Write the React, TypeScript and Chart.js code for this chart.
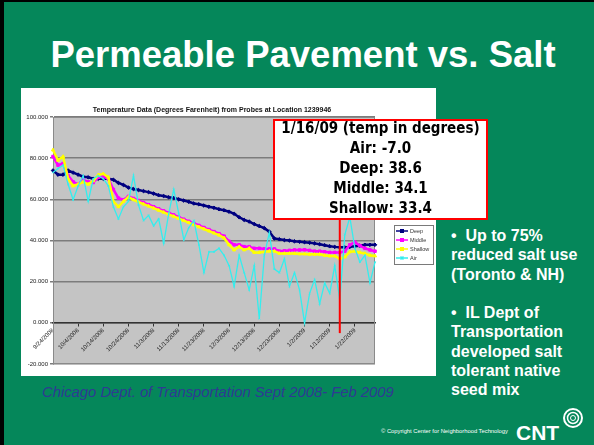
import React, { useEffect, useRef } from "react";
import { Chart, registerables } from "chart.js";

Chart.register(...registerables);

// ---------- data ----------
const dates = [
  "9/24/2008", "9/26/2008", "9/28/2008", "9/30/2008", "10/2/2008",
  "10/4/2008", "10/6/2008", "10/8/2008", "10/10/2008", "10/12/2008",
  "10/14/2008", "10/16/2008", "10/18/2008", "10/20/2008", "10/22/2008",
  "10/24/2008", "10/26/2008", "10/28/2008", "10/30/2008", "11/1/2008",
  "11/3/2008", "11/5/2008", "11/7/2008", "11/9/2008", "11/11/2008",
  "11/13/2008", "11/15/2008", "11/17/2008", "11/19/2008", "11/21/2008",
  "11/23/2008", "11/25/2008", "11/27/2008", "11/29/2008", "12/1/2008",
  "12/3/2008", "12/5/2008", "12/7/2008", "12/9/2008", "12/11/2008",
  "12/13/2008", "12/15/2008", "12/17/2008", "12/19/2008", "12/21/2008",
  "12/23/2008", "12/25/2008", "12/27/2008", "12/29/2008", "12/31/2008",
  "1/2/2009", "1/4/2009", "1/6/2009", "1/8/2009", "1/10/2009",
  "1/12/2009", "1/14/2009", "1/16/2009", "1/18/2009", "1/20/2009",
  "1/22/2009", "1/24/2009", "1/26/2009", "1/28/2009", "1/30/2009",
];

const deep = [
  74, 72, 72, 74, 73, 72, 71, 70.7, 70, 70,
  70, 70, 69.5, 68, 67, 65.7, 65, 64.5, 64, 63.5,
  62.8, 62, 61.6, 61, 60.6, 60, 59.4, 58.8, 58, 57.6,
  57, 56.4, 55.9, 55.2, 54.7, 54, 53, 51.3, 50, 49.2,
  48, 47, 46, 44.3, 41, 40.6, 40.2, 40, 39.6, 39.4,
  39.2, 38.9, 38.6, 38.2, 37.7, 37.2, 36.9, 36.7, 36.7, 36.9,
  37.2, 37.5, 37.9, 37.9, 37.9,
];

const middle = [
  80.8, 76.6, 77.4, 71.5, 68.5, 67.3, 69.5, 68.5, 68.2, 70.7,
  71, 70, 64.8, 60.6, 59.8, 61.4, 60.4, 59.4, 58.4, 57.4,
  56.4, 55.4, 54.4, 53.4, 52.4, 51.3, 50.3, 49.3, 48.3, 47.3,
  46.3, 45.3, 44.3, 43.3, 42.1, 39.6, 37.9, 37.9, 37, 37,
  36.2, 36.2, 35.9, 35.9, 35.9, 34.8, 35, 35.2, 35.4, 35.4,
  35.5, 35.2, 34.8, 34.8, 34.5, 34.2, 34.2, 34.2, 34.8, 37.9,
  39.2, 37.5, 36.2, 35.4, 34.8,
];

const shallow = [
  84, 79, 80.8, 70, 66.5, 67.3, 68.5, 67.3, 69, 71.9,
  72.4, 70.7, 59, 56.4, 59, 61.1, 59.8, 58.8, 57.7, 56.7,
  55.7, 54.7, 53.7, 52.7, 51.7, 50.7, 49.7, 48.7, 47.6, 46.6,
  45.6, 44.6, 43.6, 42.6, 41.2, 37.9, 35.4, 37, 35.4, 36.2,
  34.2, 34.2, 34.5, 34.8, 34.8, 33.7, 33.7, 33.7, 33.7, 33.5,
  33.5, 33.3, 33.3, 33.3, 32.8, 32.5, 32.5, 31.1, 32, 34.5,
  34.8, 34.2, 33.7, 32.8, 32.5,
];

const air = [
  73, 75, 76.6, 67.3, 59.8, 66.5, 71.5, 59, 70, 71.5,
  70, 66.5, 56.4, 50.5, 56.4, 59, 71.5, 57.2, 49.7, 52.2,
  47.1, 50.5, 38.7, 53, 64.8, 53, 40.4, 46.3, 49.7, 37.9,
  24.4, 34.5, 34.5, 36.2, 32.8, 27.8, 17.7, 32.8, 24.4, 16,
  27.8, 2, 32.8, 43.8, 26.1, 24.4, 31.1, 17.7, 24.4, 16,
  0, 14.3, 21, 9.3, 19.4, 14.3, 27.8, 10.9, 42.9, 51.3,
  36.2, 29.5, 32.8, 19.4, 29.5,
];

const seriesNames = ["Deep", "Middle", "Shallow", "Air"];
const seriesColors = ["#000080", "#FF00FF", "#FFFF00", "#33EEEE"];
const seriesMarkers = ["rectRot", "rect", "triangle", "crossRot"];

const yMin = -20;
const yMax = 100;
const yStep = 20;
const labelEvery = 5;

const chartTitle = "Temperature Data (Degrees Farenheit) from Probes at Location 1239946";
const slideTitle = "Permeable Pavement vs. Salt";
const calloutDate = "1/16/2009";
const calloutHeading = "1/16/09 (temp in degrees)";
const calloutNames = ["Air", "Deep", "Middle", "Shallow"];
const calloutValues = [-7.0, 38.6, 34.1, 33.4];
const calloutLineBottom = -5;
const bullets = [
  "\u2022\u00a0\u00a0Up to 75%",
  "reduced salt use",
  "(Toronto & NH)",
  "\u00a0",
  "\u2022\u00a0\u00a0IL Dept of",
  "Transportation",
  "developed salt",
  "tolerant native",
  "seed mix",
];
const sourceNote = "Chicago Dept. of Transportation Sept 2008- Feb 2009";
const copyright = "\u00a9 Copyright Center for Neighborhood Technology";

const seriesData = [deep, middle, shallow, air];

// ---------- plugin ----------
const excelLook = {
  id: "excelLook",
  beforeDraw(chart: any) {
    const { ctx, chartArea: a, width, height } = chart;
    ctx.save();
    ctx.fillStyle = "#ffffff";
    ctx.fillRect(0, 0, width, height);
    ctx.fillStyle = "#C4C4C4";
    ctx.fillRect(a.left, a.top, a.right - a.left, a.bottom - a.top);
    ctx.restore();
  },
  beforeDatasetsDraw(chart: any) {
    const { ctx, chartArea: a } = chart;
    ctx.save();
    ctx.strokeStyle = "#8a8a8a";
    ctx.lineWidth = 1;
    ctx.strokeRect(a.left + 0.5, a.top + 0.5, a.right - a.left - 1, a.bottom - a.top - 1);
    ctx.restore();
  },
  afterDraw(chart: any) {
    const { ctx, chartArea: a } = chart;
    const xs = chart.scales.x;
    const ys = chart.scales.y;
    ctx.save();
    // chart title
    ctx.fillStyle = "#111";
    ctx.font = "bold 7px 'Liberation Sans', Arial, sans-serif";
    ctx.textAlign = "center";
    ctx.textBaseline = "middle";
    ctx.fillText(chartTitle, 191, 22);

    // red call-out line
    const idx = dates.indexOf(calloutDate);
    const rx = xs.getPixelForValue(idx);
    ctx.strokeStyle = "#FF0000";
    ctx.lineWidth = 2;
    ctx.beginPath();
    ctx.moveTo(rx, ys.getPixelForValue(80));
    ctx.lineTo(rx, ys.getPixelForValue(calloutLineBottom));
    ctx.stroke();

    // legend
    const lx = a.right + 19;
    const ly = 137;
    const lw = 39;
    const rowH = 9;
    ctx.fillStyle = "#ffffff";
    ctx.fillRect(lx, ly, lw, rowH * seriesNames.length + 3);
    ctx.strokeStyle = "#7a7a7a";
    ctx.lineWidth = 1;
    ctx.strokeRect(lx + 0.5, ly + 0.5, lw, rowH * seriesNames.length + 3);
    ctx.font = "5.5px 'Liberation Sans', Arial, sans-serif";
    ctx.textAlign = "left";
    ctx.textBaseline = "middle";
    seriesNames.forEach((name, i) => {
      const cy = ly + 6 + i * rowH;
      ctx.strokeStyle = seriesColors[i];
      ctx.lineWidth = 1.5;
      ctx.beginPath();
      ctx.moveTo(lx + 2, cy);
      ctx.lineTo(lx + 14, cy);
      ctx.stroke();
      ctx.fillStyle = seriesColors[i];
      ctx.beginPath();
      if (i === 3) {
        ctx.moveTo(lx + 6.5, cy - 1.5);
        ctx.lineTo(lx + 9.5, cy + 1.5);
        ctx.moveTo(lx + 9.5, cy - 1.5);
        ctx.lineTo(lx + 6.5, cy + 1.5);
        ctx.stroke();
      } else {
        ctx.rect(lx + 6, cy - 2, 4, 4);
        ctx.fill();
      }
      ctx.fillStyle = "#333";
      ctx.fillText(name, lx + 16, cy + 0.5);
    });
    ctx.restore();
  },
};

export default function App() {
  const canvasRef = useRef<HTMLCanvasElement | null>(null);

  useEffect(() => {
    const canvas = canvasRef.current;
    if (!canvas) return;
    const datasets = seriesNames.map((name, i) => ({
      label: name,
      data: seriesData[i],
      borderColor: seriesColors[i],
      backgroundColor: seriesColors[i],
      borderWidth: i === 3 ? 1.3 : 2.5,
      pointStyle: seriesMarkers[i],
      pointRadius: i === 3 ? 1 : 1.8,
      pointBorderWidth: 1,
      tension: 0,
      fill: false,
      order: 3 - i,
    }));

    const chart = new Chart(canvas, {
      type: "line",
      data: { labels: dates, datasets },
      plugins: [excelLook],
      options: {
        animation: false,
        responsive: false,
        devicePixelRatio: 1,
        layout: { padding: { left: 0, right: 61, top: 29, bottom: 12 } },
        plugins: {
          legend: { display: false },
          title: { display: false },
          tooltip: { enabled: false },
        },
        scales: {
          x: {
            type: "category",
            position: { y: 0 },
            offset: false,
            grid: {
              drawOnChartArea: false,
              drawTicks: true,
              tickLength: 3,
              color: (c: any) => (c.index % labelEvery === 0 ? "#333" : "rgba(0,0,0,0)"),
            },
            border: { display: true, color: "#333", width: 1.5 },
            ticks: {
              autoSkip: false,
              maxRotation: 45,
              minRotation: 45,
              padding: 1,
              color: "#222",
              font: { size: 6, family: "'Liberation Sans', Arial, sans-serif" },
              callback: (_v: any, i: number) => (i % labelEvery === 0 ? dates[i] : ""),
            },
          },
          y: {
            min: yMin,
            max: yMax,
            afterFit: (s: any) => {
              s.width = 32;
            },
            grid: { color: "#7c7c7c", lineWidth: 1.5, tickLength: 3 },
            border: { display: true, color: "#333", width: 1 },
            ticks: {
              stepSize: yStep,
              padding: 2,
              color: "#222",
              font: { size: 6, family: "'Liberation Sans', Arial, sans-serif" },
              callback: (v: any) => Number(v).toFixed(3),
            },
          },
        },
      } as any,
    });
    return () => chart.destroy();
  }, []);

  const sans = "'Liberation Sans', Arial, Helvetica, sans-serif";

  return (
    <div
      style={{
        position: "fixed",
        left: 0,
        top: 0,
        width: 594,
        height: 445,
        background: "#05875A",
        overflow: "hidden",
        fontFamily: sans,
      }}
    >
      <div style={{ position: "absolute", left: 0, top: 0, width: 4, height: 445, background: "#000" }} />
      <div style={{ position: "absolute", left: 0, top: 0, width: 594, height: 2, background: "#000" }} />

      <div
        style={{
          position: "absolute",
          left: 6,
          top: 37,
          width: 594,
          textAlign: "center",
          color: "#fff",
          fontWeight: "bold",
          fontSize: 36.5,
          lineHeight: "36.5px",
          whiteSpace: "nowrap",
        }}
      >
        {slideTitle}
      </div>

      <canvas
        ref={canvasRef}
        width={415}
        height={288}
        style={{ position: "absolute", left: 21, top: 88, width: 415, height: 288 }}
      />

      <div
        style={{
          position: "absolute",
          left: 273,
          top: 119,
          width: 215,
          height: 101,
          boxSizing: "border-box",
          border: "2px solid #FF0000",
          background: "#fff",
          color: "#000",
          fontFamily: "'DejaVu Sans Condensed', 'DejaVu Sans', sans-serif",
          fontStretch: "condensed",
          fontWeight: "bold",
          fontSize: 15,
          textAlign: "center",
        }}
      >
        <div style={{ position: "absolute", left: 0, right: 0, top: -3, lineHeight: "20px", whiteSpace: "nowrap" }}>
          <div>{calloutHeading}</div>
          {calloutNames.map((n, i) => (
            <div key={n}>{`${n}: ${calloutValues[i].toFixed(1)}`}</div>
          ))}
        </div>
      </div>

      <div
        style={{
          position: "absolute",
          left: 451,
          top: 226,
          color: "#fff",
          fontWeight: "bold",
          fontSize: 16,
          lineHeight: "19.3px",
          whiteSpace: "nowrap",
        }}
      >
        {bullets.map((b, i) => (
          <div key={i}>{b}</div>
        ))}
      </div>

      <div
        style={{
          position: "absolute",
          left: 42,
          top: 384,
          color: "#2E3A93",
          fontStyle: "italic",
          fontSize: 14.8,
          lineHeight: "17px",
          whiteSpace: "nowrap",
        }}
      >
        {sourceNote}
      </div>

      <div
        style={{
          position: "absolute",
          left: 381,
          top: 428,
          color: "#fff",
          fontSize: 5.8,
          lineHeight: "7px",
          whiteSpace: "nowrap",
        }}
      >
        {copyright}
      </div>
      <div
        style={{
          position: "absolute",
          left: 516,
          top: 422,
          color: "#fff",
          fontWeight: "bold",
          fontSize: 21,
          lineHeight: "21px",
          whiteSpace: "nowrap",
        }}
      >
        CNT
      </div>
      <svg style={{ position: "absolute", left: 560, top: 405, width: 30, height: 30 }} viewBox="0 0 30 30">
        <circle cx="13" cy="13" r="9" fill="none" stroke="#fff" strokeWidth="2" />
        <circle cx="13" cy="13" r="5.5" fill="none" stroke="#fff" strokeWidth="1.5" />
        <circle cx="13" cy="13" r="2.5" fill="none" stroke="#fff" strokeWidth="1" />
      </svg>
    </div>
  );
}
